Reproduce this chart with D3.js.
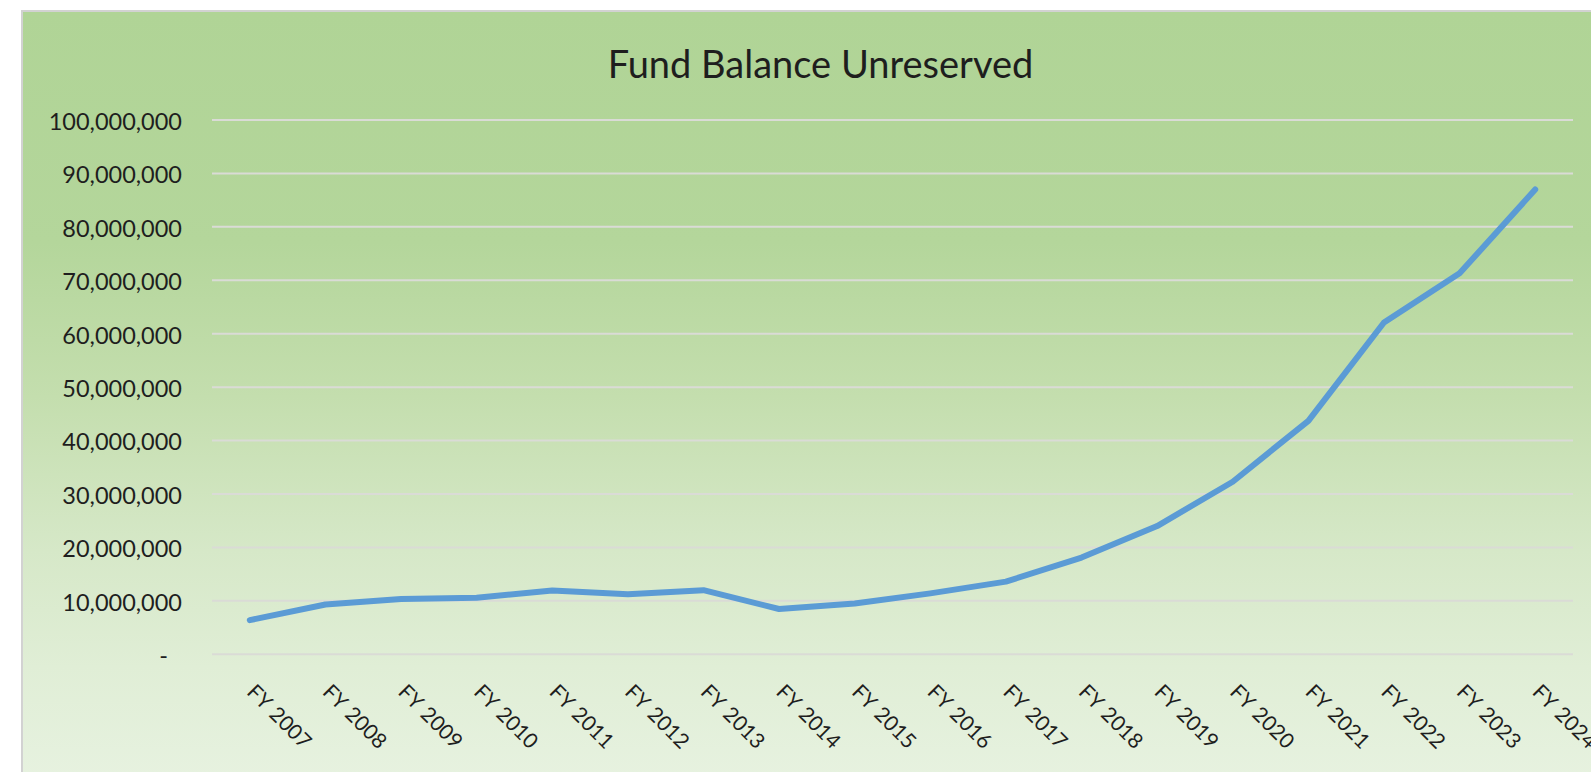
<!DOCTYPE html>
<html>
<head>
<meta charset="utf-8">
<script src="https://cdn.jsdelivr.net/npm/d3@7"></script>
<style>
  html, body { margin: 0; padding: 0; background: #fff; }
  svg { display: block; }
  text { font-family: Lato, "Open Sans", sans-serif; fill: #1e1e1e; }
</style>
</head>
<body>
<div id="chart"></div>
<script>
const width = 1591;
const height = 772;

// fiscal years on the x axis
const years = ["FY 2007", "FY 2008", "FY 2009", "FY 2010", "FY 2011", "FY 2012",
  "FY 2013", "FY 2014", "FY 2015", "FY 2016", "FY 2017", "FY 2018",
  "FY 2019", "FY 2020", "FY 2021", "FY 2022", "FY 2023", "FY 2024"];

// unreserved fund balance
const balances = [6400000, 9330000, 10330000, 10600000, 11950000, 11250000,
  12000000, 8480000, 9500000, 11400000, 13600000, 18100000,
  24000000, 32300000, 43700000, 62100000, 71300000, 87000000];

const yTicks = [0, 10000000, 20000000, 30000000, 40000000, 50000000,
  60000000, 70000000, 80000000, 90000000, 100000000];

const margin = { top: 120, right: 18, bottom: 117.7, left: 212 };

const svg = d3.select("#chart").append("svg")
  .attr("width", width)
  .attr("height", height);

// background gradient like the Excel chart area
const grad = svg.append("defs").append("linearGradient")
  .attr("id", "bg")
  .attr("x1", 0).attr("y1", 0).attr("x2", 0).attr("y2", 1);
[[0, "#b0d496"], [0.3, "#b4d69b"], [0.5, "#c4deae"], [0.7, "#d6e8c8"], [0.85, "#e0eed6"], [1, "#e7f2e0"]]
  .forEach(s => grad.append("stop").attr("offset", s[0]).attr("stop-color", s[1]));

svg.append("rect")
  .attr("x", 22).attr("y", 11)
  .attr("width", width + 10).attr("height", height)
  .attr("fill", "url(#bg)")
  .attr("stroke", "#d2d2d2")
  .attr("stroke-width", 2);

const x = d3.scalePoint()
  .domain(years)
  .range([margin.left, width - margin.right])
  .padding(0.5);

const y = d3.scaleLinear()
  .domain([0, 100000000])
  .range([height - margin.bottom, margin.top]);

// gridlines
svg.append("g")
  .selectAll("line")
  .data(yTicks)
  .join("line")
  .attr("x1", margin.left)
  .attr("x2", width - margin.right)
  .attr("y1", d => y(d))
  .attr("y2", d => y(d))
  .attr("stroke", "#dadbd6")
  .attr("stroke-width", 2);

// y axis labels
const yAxis = svg.append("g")
  .attr("transform", `translate(${margin.left},0)`)
  .call(d3.axisLeft(y)
    .tickValues(yTicks)
    .tickSize(0)
    .tickPadding(30)
    .tickFormat(d => d === 0 ? "-" : d3.format(",")(d)));
yAxis.select(".domain").remove();
yAxis.selectAll("text")
  .attr("font-size", 23.5)
  .attr("font-family", null)
  .attr("fill", "#1e1e1e")
  .attr("dy", "0.4em")
  .attr("dx", d => d === 0 ? -14 : 0);

// x axis labels, rotated
svg.append("g")
  .selectAll("text")
  .data(years)
  .join("text")
  .attr("transform", d => `translate(${x(d) - 4},${y(0) + 39}) rotate(45)`)
  .attr("font-size", 21)
  .attr("word-spacing", 2)
  .attr("text-anchor", "start")
  .text(d => d);

// line
const line = d3.line()
  .x((d, i) => x(years[i]))
  .y(d => y(d));

svg.append("path")
  .datum(balances)
  .attr("d", line)
  .attr("fill", "none")
  .attr("stroke", "#5b9bd5")
  .attr("stroke-width", 6)
  .attr("stroke-linecap", "round")
  .attr("stroke-linejoin", "round");

svg.append("text")
  .attr("x", 820.5)
  .attr("y", 78)
  .attr("text-anchor", "middle")
  .attr("font-size", 38)
  .text("Fund Balance Unreserved");
</script>
</body>
</html>
